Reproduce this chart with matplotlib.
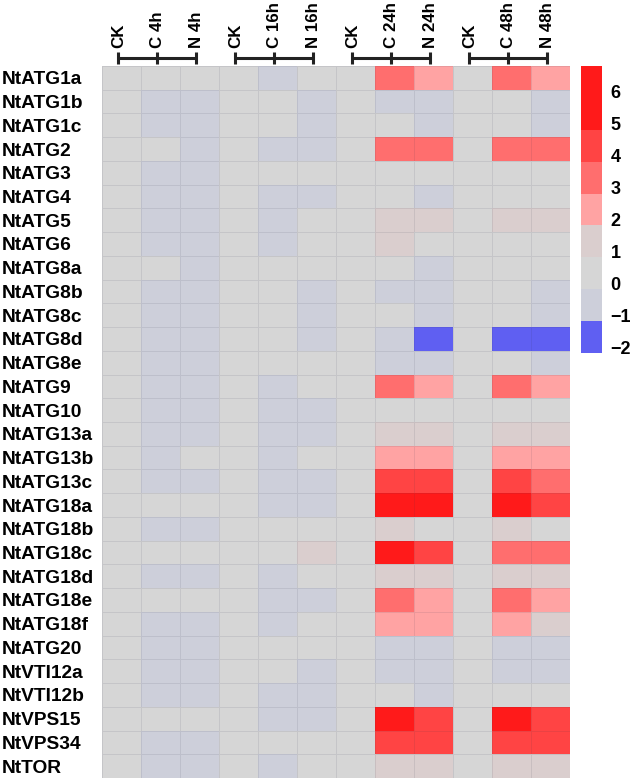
import numpy as np
import matplotlib
matplotlib.use("Agg")
import matplotlib.pyplot as plt
from matplotlib.colors import ListedColormap, BoundaryNorm
from matplotlib.transforms import ScaledTranslation, blended_transform_factory

plt.rcParams["font.family"] = ["Liberation Sans", "DejaVu Sans"]
plt.rcParams["font.weight"] = "bold"

genes = ["NtATG1a", "NtATG1b", "NtATG1c", "NtATG2", "NtATG3", "NtATG4", "NtATG5",
         "NtATG6", "NtATG8a", "NtATG8b", "NtATG8c", "NtATG8d", "NtATG8e", "NtATG9",
         "NtATG10", "NtATG13a", "NtATG13b", "NtATG13c", "NtATG18a", "NtATG18b",
         "NtATG18c", "NtATG18d", "NtATG18e", "NtATG18f", "NtATG20", "NtVTI12a",
         "NtVTI12b", "NtVPS15", "NtVPS34", "NtTOR"]

col_labels = ["CK", "C 4h", "N 4h", "CK", "C 16h", "N 16h",
              "CK", "C 24h", "N 24h", "CK", "C 48h", "N 48h"]

# log2 fold change per condition (CK = 0)
ck = [0.0] * 30
c4h = [0.3, -0.4, -0.4, 0.3, -0.4, -0.4, -0.4, -0.4, 0.3, -0.4,
       -0.4, -0.4, -0.4, -0.4, -0.4, -0.4, -0.4, -0.4, 0.3, -0.4,
       0.3, -0.4, 0.3, -0.4, -0.4, -0.4, -0.4, 0.3, -0.4, -0.4]
n4h = [0.3, -0.4, -0.4, -0.4, -0.4, -0.4, -0.4, -0.4, -0.4, -0.4,
       -0.4, -0.4, -0.4, -0.4, -0.4, -0.4, 0.3, -0.4, 0.3, -0.4,
       0.3, -0.4, 0.3, -0.4, -0.4, -0.4, -0.4, 0.3, -0.4, -0.4]
c16h = [-0.4, 0.3, 0.3, -0.4, 0.3, -0.4, -0.4, -0.4, 0.3, 0.3,
        0.3, 0.3, 0.3, -0.4, -0.4, -0.4, -0.4, -0.4, -0.4, 0.3,
        0.3, -0.4, -0.4, -0.4, 0.3, 0.3, -0.4, -0.4, 0.3, -0.4]
n16h = [0.3, -0.4, -0.4, -0.4, 0.3, -0.4, 0.3, 0.3, 0.3, -0.4,
        -0.4, -0.4, 0.3, 0.3, -0.4, -0.4, 0.3, -0.4, -0.4, 0.3,
        1.4, 0.3, -0.4, 0.3, 0.3, -0.4, -0.4, -0.4, 0.3, 0.3]
c24h = [3.5, -0.4, 0.3, 3.5, 0.3, 0.3, 1.4, 1.4, 0.3, -0.4,
        0.3, -0.4, -0.4, 3.5, 0.3, 1.4, 2.5, 4.5, 5.6, 1.4,
        5.6, 1.4, 3.5, 2.5, -0.4, -0.4, 0.3, 5.6, 4.5, 1.4]
n24h = [2.5, -0.4, -0.4, 3.5, 0.3, -0.4, 1.4, 0.3, -0.4, -0.4,
        -0.4, -1.5, -0.4, 2.5, 0.3, 1.4, 2.5, 4.5, 5.6, 0.3,
        4.5, 1.4, 2.5, 2.5, -0.4, -0.4, -0.4, 4.5, 4.5, 1.4]
c48h = [3.5, 0.3, 0.3, 3.5, 0.3, 0.3, 1.4, 0.3, 0.3, 0.3,
        0.3, -1.5, 0.3, 3.5, 0.3, 1.4, 2.5, 4.5, 5.6, 1.4,
        3.5, 1.4, 3.5, 2.5, -0.4, -0.4, 0.3, 5.6, 4.5, 1.4]
n48h = [2.5, -0.4, -0.4, 3.5, 0.3, 0.3, 1.4, 0.3, 0.3, -0.4,
        -0.4, -1.5, -0.4, 2.5, 0.3, 1.4, 2.5, 3.5, 4.5, 0.3,
        3.5, 1.4, 2.5, 1.4, -0.4, -0.4, 0.3, 4.5, 4.5, 1.4]

columns = [ck, c4h, n4h, ck, c16h, n16h, ck, c24h, n24h, ck, c48h, n48h]
groups = [[0, 1, 2], [3, 4, 5], [6, 7, 8], [9, 10, 11]]

bounds = [-2, -1, 0, 1, 2, 3, 4, 5, 7]
bin_colors = ["#5f5ff2", "#cdcfda", "#d6d6d6", "#dacece",
              "#ffa3a3", "#ff6e6e", "#ff4444", "#ff1a1a"]
cmap = ListedColormap(bin_colors)
norm = BoundaryNorm(bounds, cmap.N)

data = np.array(columns).T

fig = plt.figure(figsize=(6.33, 7.8), dpi=100)
ax = fig.add_axes([0.1611, 0.0026, 0.7393, 0.9128])
ax.pcolormesh(data, cmap=cmap, norm=norm,
              edgecolors=(0.2, 0.2, 0.3, 0.10), linewidth=0.7)
ax.set_xlim(0, len(col_labels))
ax.set_ylim(len(genes), 0)
for s in ax.spines.values():
    s.set_visible(False)

# gene names, left aligned at the figure edge
ax.set_yticks(np.arange(len(genes)) + 0.5)
ax.set_yticklabels(genes, ha="left", fontsize=13.8, fontweight="bold")
ax.tick_params(axis="y", length=0, pad=72)
ax.set_xticks([])

# column labels and group brackets
trans = blended_transform_factory(ax.transData, ax.transAxes)
xs = np.arange(len(col_labels)) + 0.5 - 0.08
for g in groups:
    gx = xs[g]
    ax.plot([gx[0], gx[-1]], [1.0112, 1.0112], color="#222222", lw=2.2,
            transform=trans, clip_on=False, solid_capstyle="butt")
    for x in gx:
        ax.plot([x, x], [1.003, 1.0197], color="#222222", lw=2.2,
                transform=trans, clip_on=False, solid_capstyle="butt")
for x, lab in zip(xs, col_labels):
    ax.text(x, 1.0253, lab, rotation=90, ha="center", va="bottom",
            fontsize=12.2, fontweight="bold", transform=trans)

# discrete colour bar
cax = fig.add_axes([0.9179, 0.5474, 0.0332, 0.368])
cb = fig.colorbar(plt.cm.ScalarMappable(norm=norm, cmap=cmap), cax=cax,
                  boundaries=bounds, spacing="proportional")
cb.outline.set_visible(False)
cb.set_ticks([-2, -1, 0, 1, 2, 3, 4, 5, 6])
cb.set_ticklabels(["\u22122", "\u22121", "0", "1", "2", "3", "4", "5", "6"])
cax.minorticks_off()
cax.tick_params(length=0, pad=6, labelsize=13)
shift = ScaledTranslation(0, 6 / 100, fig.dpi_scale_trans)
for t in cax.get_yticklabels():
    t.set_fontweight("bold")
    t.set_transform(t.get_transform() + shift)

fig.savefig("out.png", dpi=100)
